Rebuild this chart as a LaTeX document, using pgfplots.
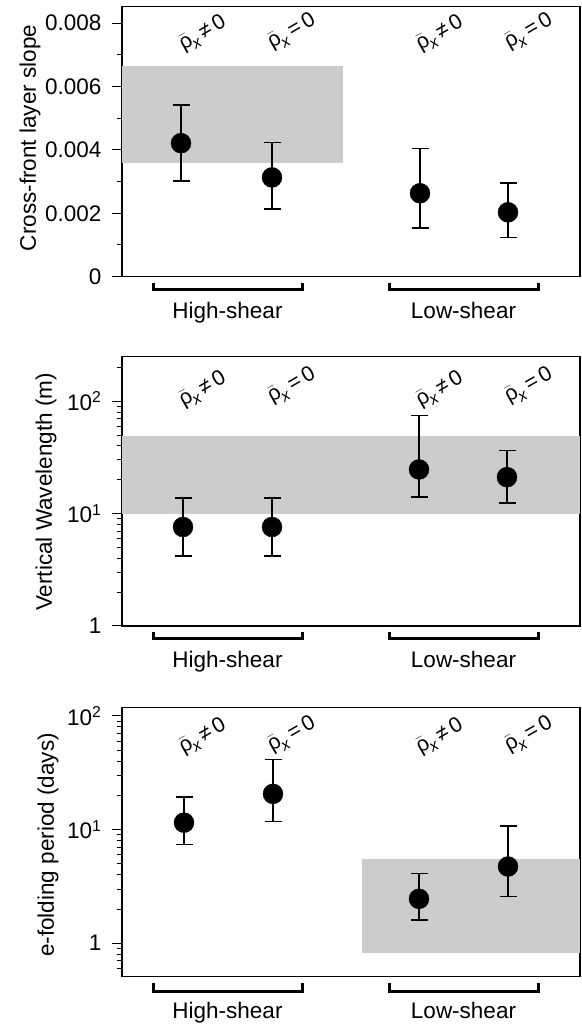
\documentclass[border=0pt]{standalone}
\usepackage{pgfplots}
\pgfplotsset{compat=1.18}
\usepackage{pgfplotstable}
\usepackage{fontspec}
\setmainfont{Liberation Sans}

\newcommand{\lab}{\fontsize{22.5bp}{26bp}\selectfont}
\newcommand{\rlab}{\fontsize{21.5bp}{25bp}\selectfont}
\newcommand{\rhox}{$\bar{\mbox{ρ}}$\kern-0.05em\raisebox{-0.25em}{\fontsize{16bp}{19bp}\selectfont\textit{x}}}
\newcommand{\neqlab}{\rlab\rhox\,≠\,0}
\newcommand{\eqlab}{\rlab\rhox\,=\,0}

\pgfplotstableread{
x y ep em
181 0.00421 0.00121 0.00119
272 0.00313 0.00110 0.00100
420 0.00263 0.00142 0.00110
508 0.00203 0.00093 0.00079
}\slopedata

\pgfplotstableread{
x y ep em
183 7.6 6.1 3.4
272 7.6 6.1 3.4
419 24.7 49.8 10.7
507 21.1 15.4 8.65
}\wavedata

\pgfplotstableread{
x y ep em
184 11.5 7.9 4.1
273 20.6 20.8 8.8
419 2.46 1.64 0.86
508 4.73 5.97 2.16
}\efolddata

\pgfplotsset{
  panel/.style={
    scale only axis, anchor=south west, width=458bp,
    xmin=122, xmax=580, xtick=\empty,
    ytick pos=left, tick align=outside,
    major tick length=10bp, minor tick length=5bp,
    axis line style={line width=1.3bp},
    tick style={black, line width=1bp},
    yticklabel style={font=\lab, xshift=-7bp},
    scaled y ticks=false,
    clip=false,
  },
  pts/.style={only marks, mark=*, mark size=10bp, black,
    error bars/.cd, y dir=both, y explicit,
    error bar style={line width=1.5bp},
    error mark options={rotate=90, line width=1.5bp, mark size=8.5bp}},
  shade/.style={fill=black!20, draw=none, forget plot},
}

\begin{document}
\begin{tikzpicture}
\path[use as bounding box] (0,0) rectangle (582bp,1024bp);

% Panel 1
\begin{axis}[panel, at={(122bp,747.3bp)}, height=270bp,
  ymin=0, ymax=0.008515,
  ytick={0,0.002,0.004,0.006,0.008},
  yticklabels={0,0.002,0.004,0.006,0.008},
  minor ytick={0.001,0.003,0.005,0.007}]
\addplot[shade] coordinates {(122,0.0036) (343,0.0036) (343,0.00663) (122,0.00663)} -- cycle;
\addplot[pts] table[x=x, y=y, y error plus=ep, y error minus=em] {\slopedata};
\end{axis}

% Panel 2
\begin{axis}[panel, at={(122bp,398bp)}, height=269.3bp,
  ymode=log, ymin=1, ymax=249,
  ytick={1,10,100},
  yticklabels={1,10\textsuperscript{1},10\textsuperscript{2}},
  minor ytick={2,3,4,5,6,7,8,9,20,30,40,50,60,70,80,90,200}]
\addplot[shade] coordinates {(122,10) (580,10) (580,48.7) (122,48.7)} -- cycle;
\addplot[pts] table[x=x, y=y, y error plus=ep, y error minus=em] {\wavedata};
\end{axis}

% Panel 3
\begin{axis}[panel, at={(122bp,47.3bp)}, height=269.4bp,
  ymode=log, ymin=0.508, ymax=119,
  ytick={1,10,100},
  yticklabels={1,10\textsuperscript{1},10\textsuperscript{2}},
  minor ytick={0.6,0.7,0.8,0.9,2,3,4,5,6,7,8,9,20,30,40,50,60,70,80,90}]
\addplot[shade] coordinates {(362,0.816) (580,0.816) (580,5.46) (362,5.46)} -- cycle;
\addplot[pts] table[x=x, y=y, y error plus=ep, y error minus=em] {\efolddata};
\end{axis}

% y labels
\node[rotate=90] at (30bp,886bp) {\lab Cross-front layer slope};
\node[rotate=90] at (46bp,532bp) {\lab Vertical Wavelength (m)};
\node[rotate=90] at (48bp,179bp) {\lab e-folding period (days)};

% rotated case labels
\foreach \yy/\yb in {990/992, 634/638, 287/289}{
  \node[rotate=30] at (203bp,\yy bp) {\neqlab};
  \node[rotate=30] at (292bp,\yb bp) {\eqlab};
  \node[rotate=30] at (440bp,\yy bp) {\neqlab};
  \node[rotate=30] at (529bp,\yb bp) {\eqlab};
}

% brackets and group labels
\foreach \ly/\ty/\by in {734/741/705.7, 385/392.3/356.7, 32.3/41.3/5.7}{
  \draw[line width=3bp] (153bp,\ty bp) -- (153bp,\ly bp) -- (302bp,\ly bp) -- (302bp,\ty bp);
  \draw[line width=3bp] (389bp,\ty bp) -- (389bp,\ly bp) -- (538bp,\ly bp) -- (538bp,\ty bp);
  \node[anchor=base] at (227.5bp,\by bp) {\lab High-shear};
  \node[anchor=base] at (463.5bp,\by bp) {\lab Low-shear};
}
\end{tikzpicture}
\end{document}
